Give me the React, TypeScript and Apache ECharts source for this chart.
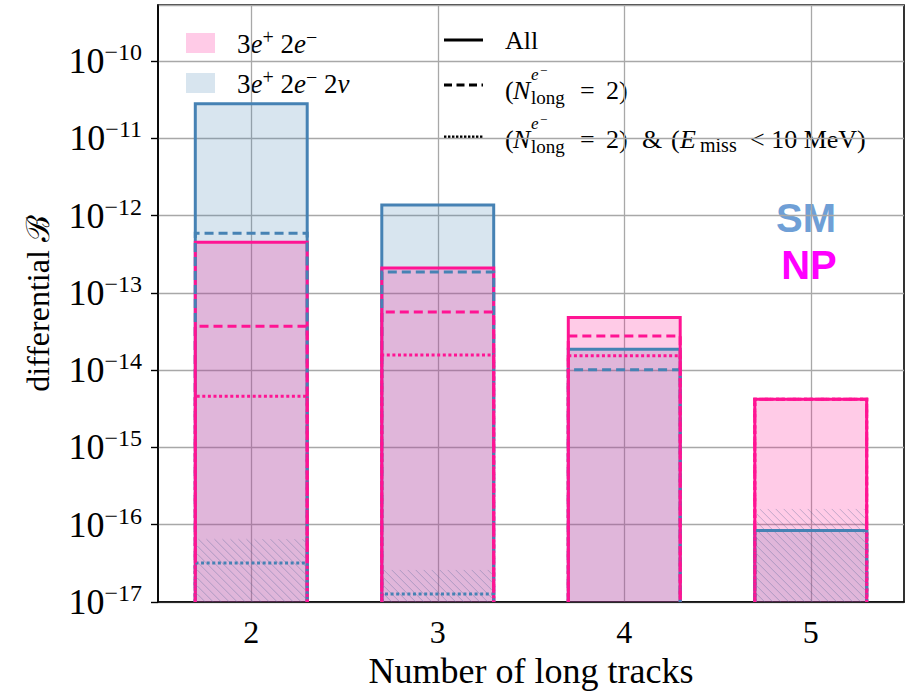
import React, { useEffect, useRef } from 'react';
import * as echarts from 'echarts';

// ---- data ----
const categories = ['2', '3', '4', '5'];
const smAll = [2.8e-11, 1.37e-12, 1.86e-14, 8.4e-17];
const smNlong2 = [5.9e-13, 1.86e-13, 1.01e-14, 8.4e-17];
const smNlong2Emiss = [3.2e-17, 1.27e-17, null, 8.4e-17];
const smHatchTop = [6.5e-17, 2.6e-17, null, 1.6e-16];
const npAll = [4.5e-13, 2.1e-13, 4.8e-14, 4.2e-15];
const npNlong2 = [3.7e-14, 5.65e-14, 2.76e-14, 4.2e-15];
const npNlong2Emiss = [4.6e-15, 1.57e-14, 1.54e-14, 4.2e-15];

const Y_MIN_EXP = -17;
const Y_MAX_EXP = -9.276;

const BLUE = '#4682b4';
const PINK = '#ff1493';
const BLUE_FILL = 'rgba(70,130,180,0.21)';
const PINK_FILL = 'rgba(255,20,147,0.22)';
const SERIF = 'Liberation Serif';
const BAR_FRAC = 0.6;
const DASH = [9, 5];
const DOT = [3, 2.6];

const toPairs = (arr: (number | null)[]) =>
  arr
    .map((v, i) => (v == null ? null : [i, Math.log10(v)]))
    .filter((d) => d != null) as number[][];

const geom = (api: any) => {
  const i = api.value(0);
  const v = api.value(1);
  const top = api.coord([i, v]);
  const base = api.coord([i, Y_MIN_EXP]);
  const w = api.size([1, 0])[0] * BAR_FRAC;
  return { x0: top[0] - w / 2, x1: top[0] + w / 2, yTop: top[1], yBase: base[1] };
};

const fillSeries = (name: string, arr: (number | null)[], color: string) => ({
  type: 'custom',
  name,
  silent: true,
  data: toPairs(arr),
  renderItem: (_p: any, api: any) => {
    const g = geom(api);
    return {
      type: 'rect',
      shape: { x: g.x0, y: g.yTop, width: g.x1 - g.x0, height: g.yBase - g.yTop },
      style: { fill: color },
    };
  },
});

const outlineSeries = (name: string, arr: (number | null)[], color: string, dash: any) => ({
  type: 'custom',
  name,
  silent: true,
  data: toPairs(arr),
  renderItem: (_p: any, api: any) => {
    const g = geom(api);
    return {
      type: 'polyline',
      shape: {
        points: [
          [g.x0, g.yBase],
          [g.x0, g.yTop],
          [g.x1, g.yTop],
          [g.x1, g.yBase],
        ],
      },
      style: { stroke: color, lineWidth: 3, lineDash: dash, fill: null },
    };
  },
});

const hatchSeries = (name: string, arr: (number | null)[]) => ({
  type: 'custom',
  name,
  silent: true,
  data: toPairs(arr),
  renderItem: (_p: any, api: any) => {
    const g = geom(api);
    const x0 = g.x0 + 2, x1 = g.x1 - 2, y0 = g.yTop, y1 = g.yBase;
    const children: any[] = [];
    const step = 8;
    for (let c = x0 - y1; c <= x1 - y0; c += step) {
      let sx = c + y0, sy = y0;
      if (sx < x0) { sx = x0; sy = x0 - c; }
      let ex = c + y1, ey = y1;
      if (ex > x1) { ex = x1; ey = x1 - c; }
      if (sx > x1 || ex < x0 || sy > y1 || ey < y0) continue;
      children.push({
        type: 'line',
        shape: { x1: sx, y1: sy, x2: ex, y2: ey },
        style: { stroke: 'rgba(80,100,150,0.35)', lineWidth: 1 },
      });
    }
    return { type: 'group', children };
  },
});

const txt = (text: string, x: number, y: number, size: number, italic = false, extra: any = {}) => ({
  type: 'text',
  x,
  y,
  silent: true,
  style: {
    text,
    fontFamily: SERIF,
    fontSize: size,
    fontStyle: italic ? 'italic' : 'normal',
    fill: '#000',
    align: 'left',
    verticalAlign: 'middle',
    ...extra,
  },
});

const legendRich = {
  i: { fontFamily: SERIF, fontSize: 27, fontStyle: 'italic' },
  s: { fontFamily: SERIF, fontSize: 20, padding: [0, 0, 14, 0] },
};

const nLongPieces = (y: number) => [
  txt('(', 505, y, 26),
  txt('N', 513, y, 26, true),
  txt('e', 531, y - 16, 17, true),
  txt('−', 540, y - 20, 13),
  txt('long', 531, y + 7, 19),
  txt('=', 580, y, 26),
  txt('2)', 606, y, 26),
];

export default function App() {
  const ref = useRef<HTMLDivElement>(null);
  useEffect(() => {
    if (!ref.current) return;
    const chart = echarts.init(ref.current, undefined, { renderer: 'svg' });
    const option: any = {
      animation: false,
      backgroundColor: '#fff',
      textStyle: { fontFamily: SERIF },
      grid: {
        left: 158,
        right: 7,
        top: 5,
        bottom: 96,
        show: true,
        borderColor: '#000',
        borderWidth: 1.6,
        backgroundColor: 'transparent',
      },
      xAxis: {
        type: 'category',
        data: categories,
        boundaryGap: true,
        name: 'Number of long tracks',
        nameLocation: 'middle',
        nameGap: 50,
        nameTextStyle: { fontFamily: SERIF, fontSize: 36, color: '#000' },
        axisLine: { lineStyle: { color: '#000', width: 1.6 } },
        axisTick: { alignWithLabel: true, length: 7, lineStyle: { color: '#000', width: 1.4 } },
        axisLabel: { fontFamily: SERIF, fontSize: 32, color: '#000', margin: 14 },
        splitLine: { show: true, alignWithLabel: true, lineStyle: { color: '#a8a8a8', width: 1.3 } },
      },
      yAxis: {
        type: 'value',
        min: Y_MIN_EXP,
        max: Y_MAX_EXP,
        interval: 1,
        name: 'differential ℬ',
        nameLocation: 'middle',
        nameGap: 104,
        nameRotate: 90,
        nameTextStyle: { fontFamily: SERIF, fontSize: 32, color: '#000' },
        axisLine: { show: true, lineStyle: { color: '#000', width: 1.6 } },
        axisTick: { show: true, length: 7, lineStyle: { color: '#000', width: 1.4 } },
        axisLabel: {
          showMaxLabel: false,
          margin: 16,
          color: '#000',
          formatter: (v: number) => (Math.abs(v - Math.round(v)) < 1e-6 ? `{b|10}{s|−${Math.abs(Math.round(v))}}` : ''),
          rich: {
            b: { fontFamily: SERIF, fontSize: 36, color: '#000' },
            s: { fontFamily: SERIF, fontSize: 24, color: '#000', padding: [0, 0, 18, 0] },
          },
        },
        splitLine: { show: true, lineStyle: { color: '#a8a8a8', width: 1.3 } },
      },
      series: [
        fillSeries('SM fill', smAll, BLUE_FILL),
        fillSeries('NP fill', npAll, PINK_FILL),
        hatchSeries('SM hatch', smHatchTop),
        outlineSeries('SM All', smAll, BLUE, null),
        outlineSeries('NP All', npAll, PINK, null),
        outlineSeries('SM Nlong=2', smNlong2, BLUE, DASH),
        outlineSeries('NP Nlong=2', npNlong2, PINK, DASH),
        outlineSeries('SM Nlong=2 & Emiss', smNlong2Emiss, BLUE, DOT),
        outlineSeries('NP Nlong=2 & Emiss', npNlong2Emiss, PINK, DOT),
      ],
      graphic: [
        { type: 'rect', silent: true, shape: { x: 186, y: 33, width: 29, height: 20 }, style: { fill: PINK_FILL } },
        { type: 'rect', silent: true, shape: { x: 186, y: 73, width: 29, height: 20 }, style: { fill: BLUE_FILL } },
        txt('3{i|e}{s|+} 2{i|e}{s|−}', 237, 44, 27, false, { rich: legendRich }),
        txt('3{i|e}{s|+} 2{i|e}{s|−} 2{i|ν}', 237, 84, 27, false, { rich: legendRich }),
        { type: 'line', silent: true, shape: { x1: 444, y1: 40, x2: 483, y2: 40 }, style: { stroke: '#000', lineWidth: 3 } },
        { type: 'line', silent: true, shape: { x1: 444, y1: 85, x2: 483, y2: 85 }, style: { stroke: '#000', lineWidth: 3, lineDash: [8, 4.5] } },
        { type: 'line', silent: true, shape: { x1: 444, y1: 137, x2: 483, y2: 137 }, style: { stroke: '#000', lineWidth: 3, lineDash: [2.4, 1.6] } },
        txt('All', 505, 40, 26),
        ...nLongPieces(90),
        ...nLongPieces(139),
        txt('&', 642, 139, 26),
        txt('(', 671, 139, 26),
        txt('E', 680, 139, 26, true),
        txt('miss', 700, 145, 20),
        txt('< 10 MeV)', 750, 139, 26),
        {
          type: 'text',
          silent: true,
          x: 806,
          y: 218,
          style: { text: 'SM', fontFamily: 'Liberation Sans', fontWeight: 'bold', fontSize: 40, fill: '#6f9fd6', align: 'center', verticalAlign: 'middle' },
        },
        {
          type: 'text',
          silent: true,
          x: 809,
          y: 265,
          style: { text: 'NP', fontFamily: 'Liberation Sans', fontWeight: 'bold', fontSize: 40, fill: '#ff00ff', align: 'center', verticalAlign: 'middle' },
        },
      ],
    };
    chart.setOption(option);
    return () => chart.dispose();
  }, []);
  return (
    <div
      ref={ref}
      style={{ position: 'fixed', left: 0, top: 0, width: 911, height: 698, background: '#fff' }}
    />
  );
}
